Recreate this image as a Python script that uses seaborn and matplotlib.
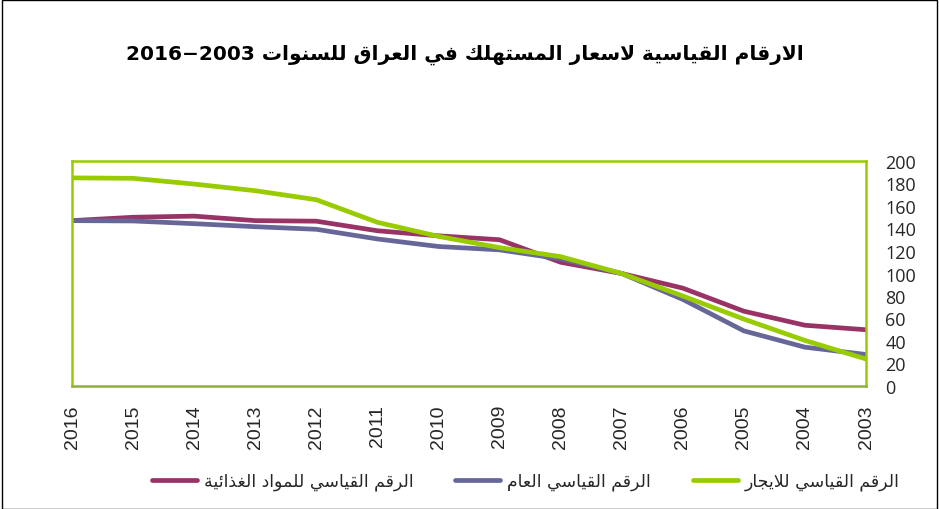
import pandas as pd
import seaborn as sns
import matplotlib.pyplot as plt
from matplotlib.patches import Rectangle

# data (2007 = 100)
years = [2016, 2015, 2014, 2013, 2012, 2011, 2010, 2009, 2008, 2007, 2006, 2005, 2004, 2003]
food = [147, 150, 151, 147, 146.5, 138, 133.5, 130, 110, 100, 87, 66.5, 54, 50]
general = [147, 146.7, 144.3, 141.6, 139.3, 130.7, 124, 121, 113, 100, 77, 49, 34.5, 28]
rent = [185, 184.6, 179.5, 173.6, 165.6, 145.5, 133, 123, 115, 100, 80, 59.5, 40.5, 24]

name_food = 'الرقم القياسي للمواد الغذائية'
name_general = 'الرقم القياسي العام'
name_rent = 'الرقم القياسي للايجار'
title_ar = 'الارقام القياسية لاسعار المستهلك في العراق للسنوات'

# simple Arabic shaping: isolated, final, initial, medial presentation forms
FORMS = {
    'ا': ('\uFE8D', '\uFE8E', None, None),
    'ة': ('\uFE93', '\uFE94', None, None),
    'ت': ('\uFE95', '\uFE96', '\uFE97', '\uFE98'),
    'ج': ('\uFE9D', '\uFE9E', '\uFE9F', '\uFEA0'),
    'د': ('\uFEA9', '\uFEAA', None, None),
    'ذ': ('\uFEAB', '\uFEAC', None, None),
    'ر': ('\uFEAD', '\uFEAE', None, None),
    'س': ('\uFEB1', '\uFEB2', '\uFEB3', '\uFEB4'),
    'ع': ('\uFEC9', '\uFECA', '\uFECB', '\uFECC'),
    'غ': ('\uFECD', '\uFECE', '\uFECF', '\uFED0'),
    'ف': ('\uFED1', '\uFED2', '\uFED3', '\uFED4'),
    'ق': ('\uFED5', '\uFED6', '\uFED7', '\uFED8'),
    'ك': ('\uFED9', '\uFEDA', '\uFEDB', '\uFEDC'),
    'ل': ('\uFEDD', '\uFEDE', '\uFEDF', '\uFEE0'),
    'م': ('\uFEE1', '\uFEE2', '\uFEE3', '\uFEE4'),
    'ن': ('\uFEE5', '\uFEE6', '\uFEE7', '\uFEE8'),
    'ه': ('\uFEE9', '\uFEEA', '\uFEEB', '\uFEEC'),
    'و': ('\uFEED', '\uFEEE', None, None),
    'ي': ('\uFEF1', '\uFEF2', '\uFEF3', '\uFEF4'),
    'ئ': ('\uFE89', '\uFE8A', '\uFE8B', '\uFE8C'),
    'لا': ('\uFEFB', '\uFEFC', None, None),
}


def shape_word(w):
    toks, i = [], 0
    while i < len(w):
        if w[i] == 'ل' and i + 1 < len(w) and w[i + 1] == 'ا':
            toks.append('لا')
            i += 2
        else:
            toks.append(w[i])
            i += 1
    out = []
    for j, t in enumerate(toks):
        if t not in FORMS:
            out.append(t)
            continue
        f = FORMS[t]
        prev = toks[j - 1] if j > 0 else None
        jp = prev in FORMS and FORMS[prev][2] is not None
        jn = j + 1 < len(toks) and toks[j + 1] in FORMS and f[2] is not None
        if jp and jn:
            out.append(f[3])
        elif jp:
            out.append(f[1])
        elif jn:
            out.append(f[2])
        else:
            out.append(f[0])
    return ''.join(reversed(out))


def ar(text):
    return ' '.join(reversed([shape_word(w) for w in text.split()]))


df = pd.DataFrame({'year': years * 3,
                   'value': food + general + rent,
                   'series': [name_food] * 14 + [name_general] * 14 + [name_rent] * 14})

sns.set_style('white')
plt.rcParams['font.family'] = ['DejaVu Sans']

fig = plt.figure(figsize=(9.39, 5.10), dpi=100)
ax = fig.add_axes([72 / 939, 1 - 387 / 510, 794 / 939, 225 / 510])

palette = {name_food: '#993366', name_general: '#666699', name_rent: '#99CC00'}
sns.lineplot(data=df, x='year', y='value', hue='series',
             hue_order=[name_food, name_general, name_rent],
             palette=palette, linewidth=3.4, ax=ax)

ax.set_xlim(2016, 2003)
ax.set_ylim(0, 200)
ax.set_xticks(years)
ax.set_xticklabels([str(y) for y in years], rotation=90, fontsize=14,
                   family=['Liberation Sans'])
ax.set_yticks(range(0, 201, 20))
ax.yaxis.tick_right()
for lab in ax.get_yticklabels():
    lab.set_family(['Open Sans'])
    lab.set_fontsize(13)
ax.tick_params(axis='y', length=0, pad=14)
ax.tick_params(axis='x', length=0, pad=13)
ax.set_xlabel('')
ax.set_ylabel('')
ax.grid(False)
for side in ['top', 'left', 'right']:
    ax.spines[side].set_color('#99CC00')
    ax.spines[side].set_linewidth(1.8)
ax.spines['bottom'].set_color('#8FB040')
ax.spines['bottom'].set_linewidth(1.8)

handles, labels = ax.get_legend_handles_labels()
ax.get_legend().remove()
fig.legend(handles, [ar(l) for l in labels], loc='center', ncol=3,
           bbox_to_anchor=(0.56, 0.055), frameon=False, fontsize=12.5,
           handlelength=2.6, columnspacing=2.4, handletextpad=0.4)

fig.text(0.495, 0.892, '2016−2003 ' + ar(title_ar), ha='center', va='center',
         fontsize=14.5, fontweight='bold', color='black')

fig.add_artist(Rectangle((0.002, 0.0), 0.996, 0.998, transform=fig.transFigure,
                         fill=False, edgecolor='black', linewidth=1))

fig.savefig('out.png', dpi=100)
